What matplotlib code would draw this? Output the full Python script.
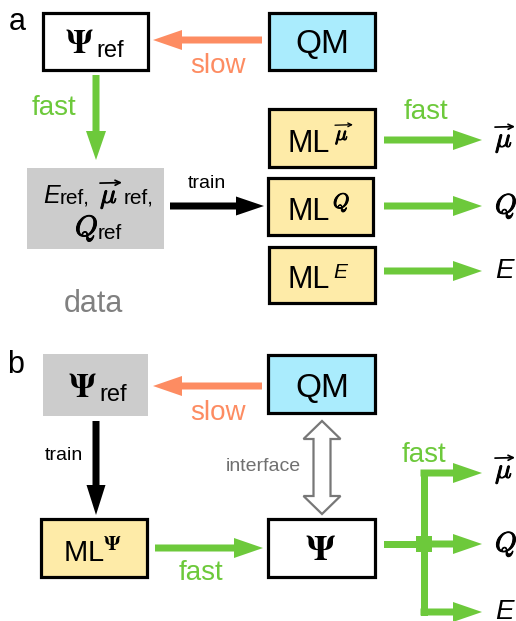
import matplotlib
matplotlib.use("Agg")
import matplotlib.pyplot as plt
import matplotlib.patheffects as pe
from matplotlib.patches import Rectangle, FancyArrow, Polygon

plt.rcParams['font.family'] = ['Liberation Sans', 'DejaVu Sans']
plt.rcParams['mathtext.fontset'] = 'custom'
plt.rcParams['mathtext.rm'] = 'Liberation Sans'
plt.rcParams['mathtext.it'] = 'Liberation Sans:italic'
plt.rcParams['mathtext.bf'] = 'Liberation Sans:bold'
plt.rcParams['mathtext.sf'] = 'Liberation Sans'

# colours
green = '#6dc93b'
salmon = '#fd8c62'
qm_blue = '#aaecfd'
ml_yellow = '#feeba8'
data_grey = '#cccccc'
text_grey = '#808080'

# labels
panel_labels = ['a', 'b']
speed_labels = ['slow', 'fast']
train_label = 'train'
data_label = 'data'
interface_label = 'interface'
output_labels = [r'$\mu$', r'$Q$', r'$E$']
output_fonts = ['cm', 'cm', 'custom']

# slightly heavier strokes for the thin Computer Modern glyphs
heavy = [pe.withStroke(linewidth=0.7, foreground='black')]

fig = plt.figure(figsize=(5.16, 6.21), dpi=100)
ax = fig.add_axes([0, 0, 1, 1])
ax.set_xlim(0, 516)
ax.set_ylim(621, 0)
ax.axis('off')


def box(x0, y0, x1, y1, fc, edge=True):
    ax.add_patch(Rectangle((x0, y0), x1 - x0, y1 - y0, fc=fc,
                           ec='black' if edge else 'none', lw=2.3 if edge else 0))


def arrow(x0, y0, x1, y1, color, w=7, hw=20, hl=29):
    ax.add_patch(FancyArrow(x0, y0, x1 - x0, y1 - y0, width=w, head_width=hw,
                            head_length=hl, length_includes_head=True,
                            color=color, lw=0))


def vec_mu(x, y, size, span):
    # mu with a long arrow over it (x = left edge, y = baseline)
    ax.text(x, y, r'$\mu$', fontsize=size, math_fontfamily='cm',
            ha='left', va='baseline', path_effects=heavy)
    ya = y - size * 1.02
    ax.annotate('', xy=(x + span, ya), xytext=(x, ya + 0.5),
                arrowprops=dict(arrowstyle='->', lw=size / 16,
                                mutation_scale=size * 0.45, color='black',
                                shrinkA=0, shrinkB=0))


def psi_ref(x, y, size=24):
    ax.text(x, y, r'$\mathbf{\Psi}$', fontsize=size, math_fontfamily='stix',
            ha='left', va='baseline')
    ax.text(x + 31, y + 4, 'ref', fontsize=17, ha='left', va='baseline')


def out_text(x, y, i, size, va):
    ax.text(x, y, output_labels[i], fontsize=size, math_fontfamily=output_fonts[i],
            ha='left', va=va, path_effects=heavy if output_fonts[i] == 'cm' else None)


# ---------------- panel a ----------------
ax.text(9, 30, panel_labels[0], fontsize=22, ha='left', va='baseline')
box(43, 13, 148, 70, 'white')
psi_ref(65, 53)
box(269, 13, 375, 70, qm_blue)
ax.text(322, 53, 'QM', fontsize=24, ha='center', va='baseline')

arrow(262, 40, 153, 40, salmon)
ax.text(218, 73, speed_labels[0], fontsize=20, color=salmon, ha='center', va='baseline')

arrow(96, 75, 96, 160, green)
ax.text(54, 115, speed_labels[1], fontsize=20, color=green, ha='center', va='baseline')

# data box
box(27, 168, 164, 249, data_grey, edge=False)
ax.text(43, 203, r'$E$', fontsize=18, ha='left', va='baseline')
ax.text(60, 203, 'ref,', fontsize=15, ha='left', va='baseline')
vec_mu(100, 203, 20, 22)
ax.text(124, 203, 'ref,', fontsize=15, ha='left', va='baseline')
out_text(75, 236, 1, 21, 'baseline')
ax.text(98, 239, 'ref', fontsize=15, ha='left', va='baseline')
ax.text(93, 312, data_label, fontsize=22, color=text_grey, ha='center', va='baseline')

arrow(170, 206, 264, 206, 'black', w=7, hw=19, hl=28)
ax.text(207, 188, train_label, fontsize=14, ha='center', va='baseline')

# ML models and outputs
ml_boxes = [(269, 109, 375, 167), (268, 178, 373, 235), (269, 247, 375, 303)]
row_y = [140, 206, 271]
sup_base = [27, 27, 25]
for i, ((x0, y0, x1, y1), ry) in enumerate(zip(ml_boxes, row_y)):
    box(x0, y0, x1, y1, ml_yellow)
    ax.text(288, y1 - 15, 'ML', fontsize=22, ha='left', va='baseline')
    arrow(384, ry, 482, ry, green)
    if i == 0:
        vec_mu(335, y1 - sup_base[i], 15, 18)
        vec_mu(495, ry + 7, 20, 20)
    else:
        out_text(333, y1 - sup_base[i], i, 15, 'baseline')
        out_text(495, ry, i, 20, 'center')
ax.text(426, 119, speed_labels[1], fontsize=20, color=green, ha='center', va='baseline')

# ---------------- panel b ----------------
ax.text(7, 373, panel_labels[1], fontsize=22, ha='left', va='baseline')
box(43, 354, 148, 416, data_grey, edge=False)
psi_ref(68, 397)
box(268, 355, 375, 413, qm_blue)
ax.text(322, 397, 'QM', fontsize=24, ha='center', va='baseline')

arrow(262, 386, 153, 386, salmon)
ax.text(218, 420, speed_labels[0], fontsize=20, color=salmon, ha='center', va='baseline')

arrow(96, 421, 96, 515, 'black', w=7, hw=19, hl=30)
ax.text(64, 460, train_label, fontsize=14, ha='center', va='baseline')

box(41, 519, 147, 577, ml_yellow)
ax.text(63, 562, r'ML$^{\mathbf{\Psi}}$', fontsize=21, math_fontfamily='stix',
        ha='left', va='baseline')
arrow(155, 548, 263, 548, green)
ax.text(201, 580, speed_labels[1], fontsize=20, color=green, ha='center', va='baseline')

# interface double arrow
cx, top, bot = 322, 421, 514
sh, hh, hl = 8.5, 18.5, 18
pts = [(cx, top), (cx + hh, top + hl), (cx + sh, top + hl), (cx + sh, bot - hl),
       (cx + hh, bot - hl), (cx, bot), (cx - hh, bot - hl), (cx - sh, bot - hl),
       (cx - sh, top + hl), (cx - hh, top + hl)]
ax.add_patch(Polygon(pts, closed=True, fc='white', ec='#777777', lw=1.6))
ax.text(263, 471, interface_label, fontsize=14, color='#707070',
        ha='center', va='baseline')

box(268, 519, 375, 577, 'white')
ax.text(320, 560, r'$\mathbf{\Psi}$', fontsize=26, math_fontfamily='stix',
        ha='center', va='baseline')

# branching outputs
branch_y = [473, 544, 612]
ax.add_patch(Rectangle((384, 540.5), 40, 7, color=green, lw=0))
ax.add_patch(Rectangle((420.5, 469.5), 7, 146, color=green, lw=0))
ax.add_patch(Rectangle((416, 536), 16, 16, color=green, lw=0))
for i, by in enumerate(branch_y):
    arrow(420.5, by, 482, by, green)
    if i == 0:
        vec_mu(495, by + 5, 20, 20)
    elif i == 1:
        out_text(495, by, i, 20, 'center')
    else:
        out_text(495, 619, i, 20, 'baseline')
ax.text(424, 462, speed_labels[1], fontsize=20, color=green, ha='center', va='baseline')

plt.savefig('out.png', dpi=100)
